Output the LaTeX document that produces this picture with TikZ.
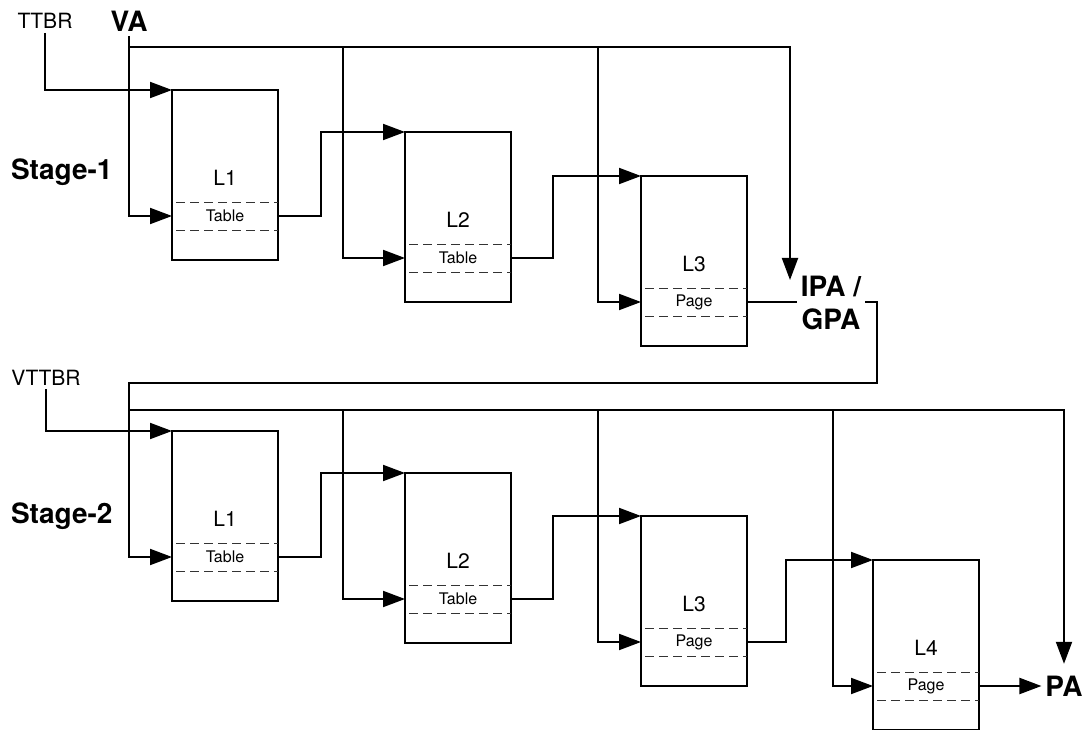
\documentclass[tikz,border=0pt]{standalone}
\usepackage{fontspec}
\setmainfont{TeX Gyre Heros}
\usetikzlibrary{arrows.meta}

\begin{document}
\begin{tikzpicture}[x=1pt,y=1pt,line width=2pt,
    arr/.style={-{Triangle[length=22pt,width=16pt]}},
    lvl/.style={draw,rectangle,minimum width=106pt,minimum height=170pt,inner sep=0pt,outer sep=0pt,anchor=north west},
    lvltxt/.style={font=\fontsize{21}{24}\selectfont},
    entry/.style={minimum width=106pt,minimum height=28pt,inner sep=0pt,outer sep=0pt,font=\fontsize{16}{18}\selectfont},
    sep/.style={line width=0.9pt,black!80,dash pattern=on 9pt off 5pt,dash phase=-4pt},
    reg/.style={font=\fontsize{21}{24}\selectfont,inner sep=3pt},
    big/.style={font=\fontsize{28}{33}\selectfont\bfseries,inner sep=3pt,align=center}]
  \path[use as bounding box] (0,0) rectangle (1088,-730);
  % table levels
  \foreach \n/\x/\y/\lv/\en in {s1l1/172/-90/L1/Table, s1l2/405/-132/L2/Table, s1l3/641/-176/L3/Page,
      s2l1/172/-431/L1/Table, s2l2/405/-473/L2/Table, s2l3/641/-516/L3/Page, s2l4/873/-560/L4/Page} {
    \node[lvl] (\n) at (\x,\y) {};
    \node[lvltxt] (\n-t) at ([yshift=-3pt]\n.center) {\lv};
    \node[entry,anchor=south] (\n-e) at ([yshift=30pt]\n.south) {\en};
    \draw[sep] (\n-e.north west) -- (\n-e.north east) (\n-e.south west) -- (\n-e.south east);
  }
  % labels
  \node[reg,anchor=base] (ttbr) at (45,-29) {TTBR};
  \node[big,anchor=base] (va) at (129,-32) {VA};
  \node[reg,anchor=base] (vttbr) at (46,-385) {VTTBR};
  \node[big,anchor=base west] (st1) at (7,-180) {Stage-1};
  \node[big,anchor=base west] (st2) at (7,-523) {Stage-2};
  \node[big] (ipa) at (831,-303) {IPA /\\GPA};
  \node[big] (pa) at (1064,-686) {PA};
  \coordinate (bus1) at (129,-47);
  \coordinate (b12) at (343,-47);
  \coordinate (b13) at (598,-47);
  \coordinate (ipain) at (790,-280);
  \coordinate (ret) at (129,-383);
  \coordinate (bus2) at (129,-410);
  \coordinate (b22) at (343,-410);
  \coordinate (b23) at (598,-410);
  \coordinate (b24) at (833,-410);
  % stage 1
  \draw[arr] (ttbr.south) |- (s1l1.north west);
  \draw[arr] (va.south) |- (s1l1-e.west);
  \draw[arr] (bus1) -| (ipain);
  \draw[arr] (b12) |- (s1l2-e.west);
  \draw[arr] (b13) |- (s1l3-e.west);
  \draw[arr] (s1l1-e.east) -- ++(43,0) |- (s1l2.north west);
  \draw[arr] (s1l2-e.east) -- ++(42,0) |- (s1l3.north west);
  \draw (s1l3-e.east) -- (s1l3-e.east -| ipa.west);
  % stage 2
  \draw[arr] (s1l3-e.east -| ipa.east) -- ++(12,0) |- (ret) |- (s2l1-e.west);
  \draw[arr] (vttbr.south) |- (s2l1.north west);
  \draw[arr] (bus2) -| ([yshift=8pt]pa.north);
  \draw[arr] (b22) |- (s2l2-e.west);
  \draw[arr] (b23) |- (s2l3-e.west);
  \draw[arr] (b24) |- (s2l4-e.west);
  \draw[arr] (s2l1-e.east) -- ++(43,0) |- (s2l2.north west);
  \draw[arr] (s2l2-e.east) -- ++(42,0) |- (s2l3.north west);
  \draw[arr] (s2l3-e.east) -- ++(39,0) |- (s2l4.north west);
  \draw[arr] (s2l4-e.east) -- (pa.west);
\end{tikzpicture}
\end{document}
